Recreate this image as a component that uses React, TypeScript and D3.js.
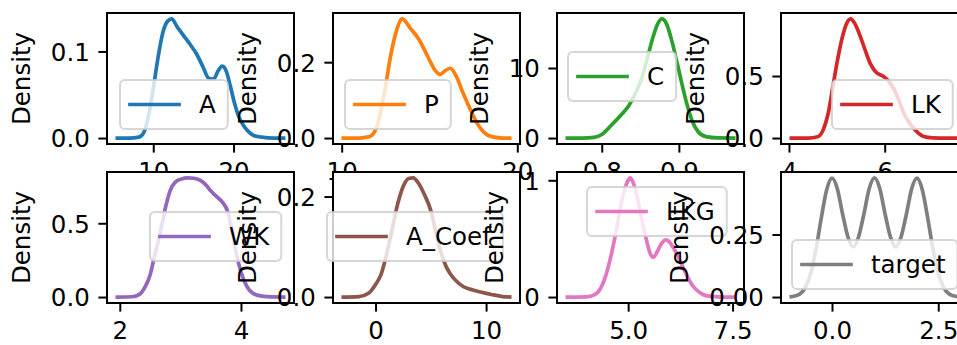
import React, { useEffect, useRef } from "react";
import * as d3 from "d3";

// density curves (x value, density)
const aX = [5.3, 7, 8.2, 8.8, 9.4, 10, 10.6, 11.2, 11.8, 12.3, 13.0, 13.8, 14.6, 15.4, 16.2, 16.9, 17.5, 18.1, 18.6, 19.1, 19.6, 20.1, 20.6, 21.2, 21.8, 22.5, 23.5, 25, 26.47];
const aDensity = [0, 0, 0.001, 0.006, 0.025, 0.057, 0.093, 0.122, 0.135, 0.1375, 0.128, 0.118, 0.108, 0.097, 0.082, 0.069, 0.068, 0.078, 0.083, 0.077, 0.06, 0.041, 0.026, 0.015, 0.008, 0.003, 0.001, 0, 0];

const pX = [9.99, 11.0, 11.6, 12.0, 12.4, 12.8, 13.1, 13.45, 13.9, 14.4, 14.9, 15.3, 15.6, 15.9, 16.2, 16.5, 16.9, 17.3, 17.7, 18.1, 18.6, 19.2, 19.67];
const pDensity = [0, 0, 0.004, 0.03, 0.11, 0.22, 0.28, 0.314, 0.29, 0.26, 0.215, 0.18, 0.168, 0.178, 0.184, 0.165, 0.12, 0.078, 0.04, 0.015, 0.003, 0, 0];

const cX = [0.753, 0.775, 0.79, 0.8, 0.813, 0.825, 0.835, 0.845, 0.852, 0.86, 0.867, 0.873, 0.878, 0.884, 0.891, 0.898, 0.904, 0.911, 0.917, 0.925, 0.935, 0.95, 0.9734];
const cDensity = [0, 0, 0.1, 0.5, 1.9, 3.3, 4.6, 6.7, 8.6, 11.8, 14.6, 16.4, 17.0, 16.3, 13.8, 10.6, 7.7, 4.6, 2.5, 0.9, 0.2, 0.02, 0];

const lkX = [4.011, 4.4, 4.6, 4.72, 4.82, 4.92, 5.02, 5.12, 5.2, 5.29, 5.38, 5.49, 5.6, 5.7, 5.82, 5.96, 6.08, 6.2, 6.3, 6.4, 6.52, 6.65, 6.8, 7.0, 7.3, 7.563];
const lkDensity = [0, 0, 0.01, 0.07, 0.2, 0.42, 0.64, 0.82, 0.92, 0.96, 0.92, 0.82, 0.7, 0.6, 0.53, 0.5, 0.46, 0.39, 0.3, 0.2, 0.12, 0.06, 0.015, 0.002, 0, 0];

const wkX = [1.929, 2.2, 2.33, 2.42, 2.5, 2.58, 2.67, 2.75, 2.83, 2.92, 3.02, 3.12, 3.22, 3.33, 3.42, 3.5, 3.6, 3.7, 3.78, 3.85, 3.92, 4.0, 4.1, 4.2, 4.35, 4.5, 4.735];
const wkDensity = [0, 0.002, 0.02, 0.07, 0.15, 0.29, 0.44, 0.6, 0.72, 0.78, 0.8, 0.807, 0.805, 0.79, 0.76, 0.72, 0.68, 0.64, 0.58, 0.45, 0.3, 0.17, 0.07, 0.025, 0.006, 0.001, 0];

const acX = [-3.08, -1.5, -0.6, 0, 0.5, 1.0, 1.5, 2.0, 2.5, 3.0, 3.4, 3.9, 4.4, 5.0, 5.5, 5.9, 6.4, 6.8, 7.4, 8.0, 8.8, 9.5, 10.5, 11.5, 12.3];
const acDensity = [0, 0.001, 0.008, 0.025, 0.045, 0.085, 0.135, 0.185, 0.22, 0.236, 0.237, 0.226, 0.205, 0.172, 0.125, 0.09, 0.06, 0.045, 0.03, 0.02, 0.014, 0.01, 0.005, 0.001, 0];

const lkgX = [3.5, 4.0, 4.2, 4.35, 4.47, 4.6, 4.71, 4.8, 4.9, 5.0, 5.05, 5.12, 5.22, 5.33, 5.43, 5.52, 5.6, 5.7, 5.8, 5.9, 5.97, 6.05, 6.15, 6.28, 6.4, 6.52, 6.64, 6.8, 7.0, 7.3, 7.57];
const lkgDensity = [0, 0.002, 0.02, 0.08, 0.19, 0.37, 0.56, 0.74, 0.9, 1.0, 1.02, 0.98, 0.85, 0.66, 0.5, 0.38, 0.34, 0.39, 0.46, 0.49, 0.48, 0.44, 0.38, 0.28, 0.19, 0.11, 0.06, 0.02, 0.005, 0, 0];

const targetX = [-1, -0.875, -0.75, -0.625, -0.5, -0.375, -0.25, -0.125, 0, 0.125, 0.25, 0.375, 0.5, 0.625, 0.75, 0.875, 1, 1.125, 1.25, 1.375, 1.5, 1.625, 1.75, 1.875, 2, 2.125, 2.25, 2.375, 2.5, 2.625, 2.75, 2.875, 3];
const targetDensity = [0.001, 0.004, 0.013, 0.039, 0.096, 0.193, 0.318, 0.429, 0.475, 0.433, 0.331, 0.24, 0.2, 0.24, 0.331, 0.433, 0.476, 0.433, 0.331, 0.24, 0.2, 0.24, 0.331, 0.433, 0.475, 0.429, 0.318, 0.193, 0.096, 0.039, 0.013, 0.004, 0.001];

// tick values / labels
const aXTicks = [10, 20];
const aXTickLabels = ["10", "20"];
const aYTicks = [0, 0.1];
const aYTickLabels = ["0.0", "0.1"];
const pXTicks = [10, 20];
const pXTickLabels = ["10", "20"];
const pYTicks = [0, 0.2];
const pYTickLabels = ["0.0", "0.2"];
const cXTicks = [0.8, 0.9];
const cXTickLabels = ["0.8", "0.9"];
const cYTicks = [0, 10];
const cYTickLabels = ["0", "10"];
const lkXTicks = [4, 6];
const lkXTickLabels = ["4", "6"];
const lkYTicks = [0, 0.5];
const lkYTickLabels = ["0.0", "0.5"];
const wkXTicks = [2, 4];
const wkXTickLabels = ["2", "4"];
const wkYTicks = [0, 0.5];
const wkYTickLabels = ["0.0", "0.5"];
const acXTicks = [0, 10];
const acXTickLabels = ["0", "10"];
const acYTicks = [0, 0.2];
const acYTickLabels = ["0.0", "0.2"];
const lkgXTicks = [5, 7.5];
const lkgXTickLabels = ["5.0", "7.5"];
const lkgYTicks = [0, 1];
const lkgYTickLabels = ["0", "1"];
const targetXTicks = [0, 2.5];
const targetXTickLabels = ["0.0", "2.5"];
const targetYTicks = [0, 0.25];
const targetYTickLabels = ["0.00", "0.25"];

const panels = [
  { name: "A", xs: aX, ys: aDensity, color: "#1f77b4", xt: aXTicks, xl: aXTickLabels, yt: aYTicks, yl: aYTickLabels, leg: [13, 67] },
  { name: "P", xs: pX, ys: pDensity, color: "#ff7f0e", xt: pXTicks, xl: pXTickLabels, yt: pYTicks, yl: pYTickLabels, leg: [12, 67] },
  { name: "C", xs: cX, ys: cDensity, color: "#2ca02c", xt: cXTicks, xl: cXTickLabels, yt: cYTicks, yl: cYTickLabels, leg: [11, 39] },
  { name: "LK", xs: lkX, ys: lkDensity, color: "#d62728", xt: lkXTicks, xl: lkXTickLabels, yt: lkYTicks, yl: lkYTickLabels, leg: [51, 67] },
  { name: "WK", xs: wkX, ys: wkDensity, color: "#9467bd", xt: wkXTicks, xl: wkXTickLabels, yt: wkYTicks, yl: wkYTickLabels, leg: [43, 40] },
  { name: "A_Coef", xs: acX, ys: acDensity, color: "#8c564b", xt: acXTicks, xl: acXTickLabels, yt: acYTicks, yl: acYTickLabels, leg: [-6, 40] },
  { name: "LKG", xs: lkgX, ys: lkgDensity, color: "#e377c2", xt: lkgXTicks, xl: lkgXTickLabels, yt: lkgYTicks, yl: lkgYTickLabels, leg: [30, 15] },
  { name: "target", xs: targetX, ys: targetDensity, color: "#7f7f7f", xt: targetXTicks, xl: targetXTickLabels, yt: targetYTicks, yl: targetYTickLabels, leg: [11, 68] },
];

const W = 957;
const H = 345;
const colLeft = [107, 333, 557, 781];
const rowTop = [13, 172];
const axW = 187;
const axH = 131;
const FS = 24.5;
const TICK = 8.6;
const PAD = 8.6;
const FONT = "DejaVu Sans";

export default function App() {
  const svgRef = useRef<SVGSVGElement>(null);

  useEffect(() => {
    const svg = d3.select(svgRef.current);
    svg.selectAll("*").remove();
    svg.append("rect").attr("width", W).attr("height", H).attr("fill", "#fff");

    // panels are drawn in order, so a later axes covers what spills out of an earlier one
    panels.forEach((p, i) => {
      const left = colLeft[i % 4];
      const top = rowTop[Math.floor(i / 4)];
      const lo = d3.min(p.xs) as number;
      const hi = d3.max(p.xs) as number;
      const pad = (hi - lo) * 0.05;
      const peak = d3.max(p.ys) as number;
      const x = d3.scaleLinear().domain([lo - pad, hi + pad]).range([0, axW]);
      const y = d3.scaleLinear().domain([-0.05 * peak, 1.05 * peak]).range([axH, 0]);

      const g = svg.append("g").attr("transform", `translate(${left},${top})`);
      g.append("rect").attr("width", axW).attr("height", axH).attr("fill", "#fff");

      const line = d3
        .line<[number, number]>()
        .x((d) => x(d[0]))
        .y((d) => y(d[1]))
        .curve(d3.curveMonotoneX);
      g.append("path")
        .datum(d3.zip(p.xs, p.ys) as [number, number][])
        .attr("d", line)
        .attr("fill", "none")
        .attr("stroke", p.color)
        .attr("stroke-width", 3.7)
        .attr("stroke-linejoin", "round");

      // spines
      g.append("rect")
        .attr("width", axW)
        .attr("height", axH)
        .attr("fill", "none")
        .attr("stroke", "#000")
        .attr("stroke-width", 2);

      // x axis
      const xAxis = g
        .append("g")
        .attr("transform", `translate(0,${axH})`)
        .call(
          d3
            .axisBottom(x)
            .tickValues(p.xt)
            .tickFormat((_d, k) => p.xl[k])
            .tickSize(TICK)
            .tickSizeOuter(0)
        );
      xAxis.select(".domain").remove();
      xAxis.selectAll("line").attr("stroke", "#000").attr("stroke-width", 2);
      xAxis
        .selectAll("text")
        .attr("y", TICK + PAD + 0.76 * FS)
        .attr("dy", null)
        .attr("fill", "#000")
        .attr("font-family", FONT)
        .attr("font-size", FS);

      // y axis
      const yAxis = g.append("g").call(
        d3
          .axisLeft(y)
          .tickValues(p.yt)
          .tickFormat((_d, k) => p.yl[k])
          .tickSize(TICK)
          .tickSizeOuter(0)
      );
      yAxis.select(".domain").remove();
      yAxis.selectAll("line").attr("stroke", "#000").attr("stroke-width", 2);
      yAxis
        .selectAll("text")
        .attr("x", -(TICK + PAD))
        .attr("dy", "0.36em")
        .attr("fill", "#000")
        .attr("font-family", FONT)
        .attr("font-size", FS);

      let maxW = 0;
      yAxis.selectAll<SVGTextElement, unknown>("text").each(function () {
        maxW = Math.max(maxW, this.getComputedTextLength());
      });
      const labelX = -(TICK + PAD) - maxW - 21;
      g.append("text")
        .attr("transform", `translate(${labelX},${axH / 2}) rotate(-90)`)
        .attr("text-anchor", "middle")
        .attr("font-family", FONT)
        .attr("font-size", FS)
        .attr("fill", "#000")
        .text("Density");

      // legend
      const lg = g.append("g").attr("transform", `translate(${p.leg[0]},${p.leg[1]})`);
      const box = lg
        .append("rect")
        .attr("height", 49)
        .attr("rx", 4.9)
        .attr("fill", "#fff")
        .attr("fill-opacity", 0.8)
        .attr("stroke", "#cccccc")
        .attr("stroke-opacity", 0.8)
        .attr("stroke-width", 2);
      lg.append("line")
        .attr("x1", 10)
        .attr("x2", 59)
        .attr("y1", 24.5)
        .attr("y2", 24.5)
        .attr("stroke", p.color)
        .attr("stroke-width", 3.7)
        .attr("stroke-linecap", "square");
      const t = lg
        .append("text")
        .attr("x", 79)
        .attr("y", 24.5)
        .attr("dy", "0.36em")
        .attr("font-family", FONT)
        .attr("font-size", FS)
        .attr("fill", "#000")
        .text(p.name);
      const tw = (t.node() as SVGTextElement).getComputedTextLength();
      box.attr("width", 79 + tw + 12);
    });
  }, []);

  return (
    <svg
      ref={svgRef}
      width={W}
      height={H}
      style={{ position: "absolute", left: 0, top: 0, display: "block" }}
    />
  );
}
